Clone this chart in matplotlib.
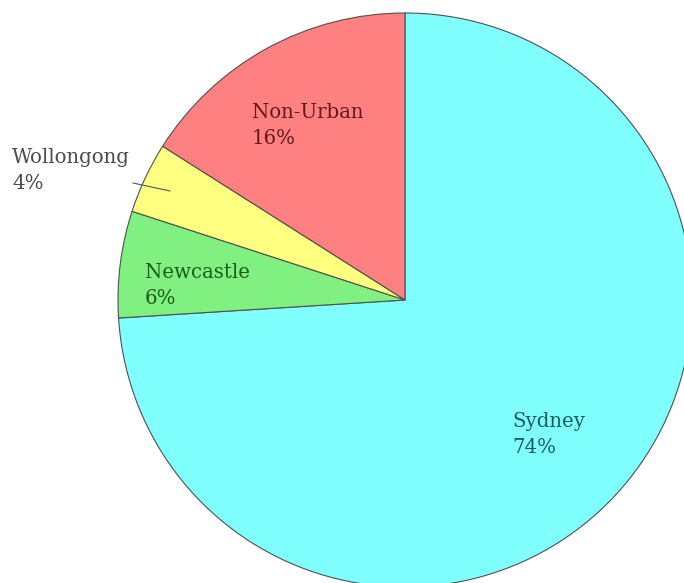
import matplotlib.pyplot as plt

labels = ['Sydney', 'Newcastle', 'Wollongong', 'Non-Urban']
shares = [74, 6, 4, 16]
colors = ['#80ffff', '#80f080', '#ffff80', '#ff8080']
text_colors = ['#1a5c5c', '#1a5c1a', '#4a4a4a', '#631a1a']
# left / baseline of the first label line, pixel coords from the top-left
label_pos = [(512, 427), (145, 278), (12, 163), (252, 118)]

W, H = 684, 583
fig = plt.figure(figsize=(W / 100, H / 100), dpi=100)
ax = fig.add_axes([0, 0, 1, 1])

cx, cy, r = 405, 300, 287
ax.pie(shares, colors=colors, startangle=90, counterclock=False,
       center=(cx, H - cy), radius=r,
       wedgeprops=dict(edgecolor='#505050', linewidth=0.8))
ax.set_xlim(0, W)
ax.set_ylim(0, H)
ax.set_aspect('equal')
ax.axis('off')

for lab, val, (x, y), tc in zip(labels, shares, label_pos, text_colors):
    ax.text(x, H - y, lab, ha='left', va='baseline',
            fontsize=14.2, family='DejaVu Serif', color=tc)
    ax.text(x, H - y - 26, str(val) + '%', ha='left', va='baseline',
            fontsize=14.2, family='DejaVu Serif', color=tc)

# leader line for Wollongong
ax.plot([133, 170], [H - 183, H - 191], color='#555555', lw=0.8)

fig.savefig('out.png', dpi=100)
